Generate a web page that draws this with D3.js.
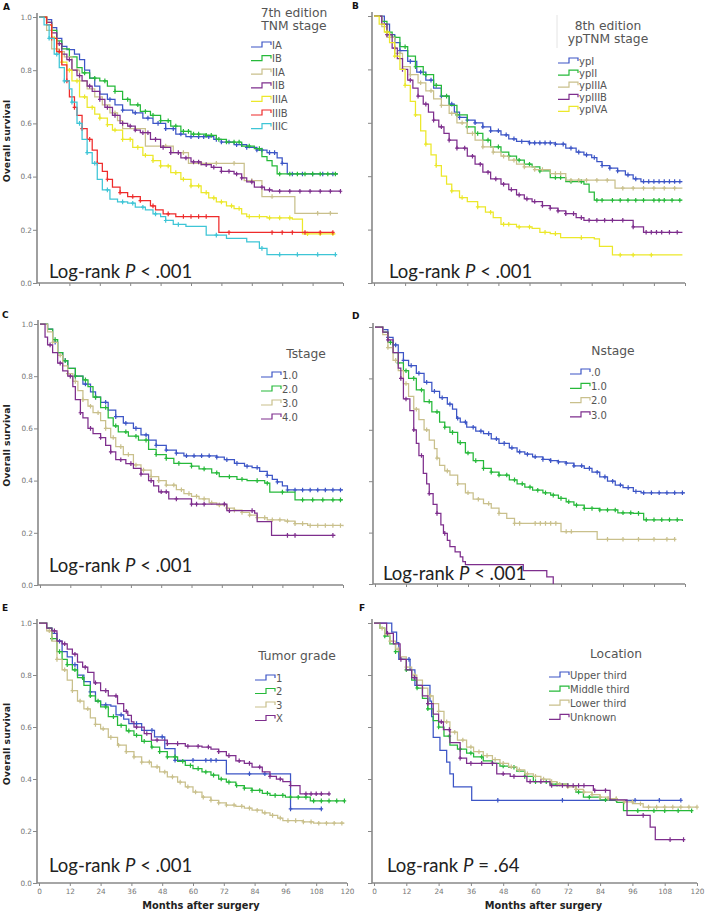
<!DOCTYPE html>
<html><head><meta charset="utf-8">
<script src="https://cdn.jsdelivr.net/npm/d3@7"></script>
<style>body{margin:0;background:#fff}svg{display:block}</style>
</head><body>
<svg id="c" width="709" height="914"></svg>
<script>
// ---------- tick values ----------
const monthTicks = [0,12,24,36,48,60,72,84,96,108,120];
const survTicks = [0,0.2,0.4,0.6,0.8,1.0];

// ---------- Panel A: 7th edition TNM stage ----------
const aIA = [[0,1],[3,0.99],[5,0.96],[7,0.92],[9,0.89],[11,0.877],[14,0.86],[16,0.84],[18,0.80],[20,0.77],[22,0.74],[24,0.71],[27,0.69],[30,0.67],[33,0.65],[37,0.64],[41,0.62],[45,0.60],[50,0.58],[54,0.56],[58,0.55],[69,0.54],[72,0.53],[77,0.52],[82,0.51],[86,0.50],[90,0.49],[94,0.47],[96,0.45],[98,0.41],[118,0.41]];
const aIB = [[0,1],[3,0.98],[5,0.95],[7,0.91],[9,0.88],[12,0.85],[15,0.81],[17,0.79],[20,0.77],[24,0.76],[27,0.74],[30,0.72],[33,0.69],[36,0.67],[40,0.645],[44,0.63],[48,0.61],[52,0.59],[56,0.57],[60,0.56],[66,0.555],[70,0.54],[74,0.53],[80,0.515],[85,0.505],[88,0.475],[90,0.46],[92,0.44],[94,0.41],[118,0.41]];
const aIIA = [[0,1],[3,0.95],[5,0.88],[8,0.87],[10,0.85],[13,0.80],[16,0.76],[19,0.73],[22,0.70],[25,0.67],[28,0.64],[31,0.61],[33,0.58],[42,0.515],[53,0.49],[59,0.45],[81,0.385],[88,0.325],[101,0.262],[118,0.262]];
const aIIB = [[0,1],[3,0.98],[5,0.94],[7,0.90],[9,0.86],[11,0.84],[13,0.80],[15,0.78],[17,0.76],[19,0.74],[21,0.72],[24,0.69],[26,0.66],[29,0.63],[32,0.60],[35,0.59],[38,0.575],[40,0.565],[44,0.54],[48,0.51],[52,0.49],[56,0.47],[60,0.455],[64,0.445],[68,0.435],[72,0.42],[77,0.41],[80,0.395],[82,0.38],[85,0.36],[89,0.35],[92,0.345],[119,0.345]];
const aIIIA = [[0,1],[3,0.97],[5,0.92],[7,0.87],[9,0.83],[11,0.80],[13,0.76],[16,0.70],[19,0.66],[22,0.635],[24,0.62],[27,0.595],[29,0.575],[33,0.54],[37,0.51],[41,0.48],[45,0.46],[48,0.44],[52,0.415],[56,0.39],[60,0.365],[64,0.34],[67,0.32],[70,0.305],[74,0.29],[77,0.28],[80,0.26],[82,0.25],[90,0.245],[100,0.24],[104,0.185],[117,0.185]];
const aIIIB = [[0,1],[3,0.97],[5,0.92],[7,0.87],[9,0.82],[11,0.76],[12,0.70],[14,0.66],[15,0.63],[17,0.58],[19,0.54],[21,0.50],[23,0.45],[25,0.42],[27,0.39],[29,0.36],[32,0.34],[35,0.325],[40,0.31],[44,0.29],[46,0.275],[49,0.26],[54,0.25],[71,0.19],[116,0.19]];
const aIIIC = [[0,1],[2,0.97],[4,0.92],[6,0.86],[8,0.81],[10,0.76],[12,0.73],[13,0.68],[15,0.60],[17,0.54],[19,0.49],[21,0.45],[23,0.39],[25,0.35],[28,0.315],[31,0.305],[35,0.30],[38,0.285],[42,0.275],[45,0.26],[48,0.25],[50,0.235],[53,0.22],[58,0.213],[66,0.18],[74,0.168],[82,0.155],[87,0.13],[90,0.107],[117,0.107]];
const aIAc = [28,33,38,43,47,50,53,56,60,63,65,67,70,72,75,78,80,82,86,88,91,93,96,100,104,108,112,116];
const aIBc = [18,22,26,30,35,39,42,45,48,51,54,57,59,61,63,66,68,71,74,77,79,83,87,95,99,102,105,108,111,114,117];
const aIIAc = [8,15,30,38,50,57,64,70,77,84,92,110,115];
const aIIBc = [8,12,16,20,24,27,30,33,36,38,41,43,46,49,52,55,58,61,63,66,69,72,75,78,80,84,88,91,95,99,103,107,111,115,119];
const aIIIAc = [6,9,12,15,18,21,24,27,30,33,36,39,42,45,48,51,54,57,60,63,66,69,72,76,79,83,87,91,95,99,106,111,116];
const aIIIBc = [5,8,11,14,17,20,23,27,32,37,40,45,51,57,60,63,66,75,92,96,100,105,111,116];
const aIIICc = [4,7,10,13,16,19,22,27,33,37,41,46,50,55,70,88,95,102,110,117];

// ---------- Panel B: 8th edition ypTNM stage ----------
const bI = [[0,1],[4,0.97],[6,0.93],[8,0.90],[10,0.87],[13,0.83],[16.5,0.79],[20,0.76],[23,0.73],[26,0.70],[29,0.67],[31,0.64],[33,0.62],[36,0.61],[39,0.60],[42,0.585],[45,0.57],[49,0.555],[52,0.54],[55,0.53],[60,0.525],[70,0.52],[74,0.505],[78,0.49],[81,0.48],[84,0.47],[86,0.455],[88,0.44],[91,0.43],[94,0.42],[97,0.405],[100,0.39],[103,0.38],[119,0.38]];
const bII = [[0,1],[3,0.98],[5,0.94],[7,0.92],[10,0.885],[13,0.85],[16,0.81],[19,0.78],[23,0.74],[26,0.70],[29,0.665],[32,0.63],[36,0.585],[39,0.56],[42,0.535],[45,0.51],[49,0.49],[52,0.475],[55,0.46],[58,0.445],[61,0.435],[64,0.42],[68,0.395],[74,0.38],[81,0.37],[83,0.34],[85,0.31],[119,0.31]];
const bIIIA = [[0,1],[3,0.96],[5,0.92],[8,0.86],[11,0.81],[14,0.78],[17,0.75],[20,0.72],[23,0.69],[26,0.665],[29,0.635],[32,0.60],[36,0.56],[39,0.535],[42,0.51],[46,0.49],[49,0.475],[52,0.46],[55,0.445],[58,0.435],[62,0.425],[68,0.41],[74,0.385],[93,0.355],[119,0.355]];
const bIIIB = [[0,1],[3,0.97],[5,0.93],[7,0.88],[9,0.84],[11,0.80],[13,0.76],[15,0.73],[17,0.70],[19,0.67],[21,0.64],[23,0.61],[25,0.585],[27,0.56],[29,0.535],[32,0.505],[36,0.475],[39,0.445],[42,0.415],[45,0.39],[49,0.37],[52,0.35],[55,0.33],[58,0.315],[61,0.305],[65,0.29],[68,0.28],[71,0.27],[74,0.26],[78,0.245],[81,0.235],[94,0.235],[100,0.21],[104,0.19],[119,0.19]];
const bIVA = [[0,1],[2,0.97],[4,0.94],[6,0.90],[8,0.85],[10,0.80],[12,0.74],[14,0.68],[16,0.63],[18,0.57],[20,0.52],[22,0.48],[24,0.44],[26,0.40],[28,0.37],[30,0.345],[33,0.32],[36,0.305],[40,0.285],[43,0.265],[46,0.245],[49,0.22],[55,0.21],[61,0.205],[64,0.19],[68,0.185],[72,0.17],[85,0.165],[87,0.137],[92,0.105],[119,0.105]];
const bIc = [6,10,14,18,22,26,30,33,36,39,42,45,48,51,54,57,60,62,64,66,68,70,73,76,79,82,85,88,91,94,98,101,104,106,108,110,112,114,116,118];
const bIIc = [5,8,12,16,20,24,28,32,36,40,44,48,52,56,60,64,70,72,76,80,86,88,92,95,98,101,104,108,110,112,115,118];
const bIIIAc = [6,10,14,18,22,26,30,34,38,42,46,50,54,58,62,65,70,72,76,79,82,86,90,96,100,104,108,112,116];
const bIIIBc = [5,8,11,14,17,20,23,26,29,32,35,38,41,44,47,50,53,56,59,62,65,68,71,74,77,80,83,86,89,92,96,100,105,107,109,111,114,117];
const bIVAc = [5,8,12,16,20,24,30,34,40,45,50,52,56,60,66,70,80,95,100,107];

// ---------- Panel C: T stage ----------
const cT1 = [[0,1],[3,0.98],[5,0.93],[7,0.89],[9,0.86],[11,0.83],[14,0.80],[17,0.77],[20,0.74],[22,0.72],[24,0.70],[27,0.67],[30,0.645],[33,0.62],[37,0.60],[40,0.575],[43,0.555],[46,0.535],[50,0.517],[54,0.505],[57,0.495],[70,0.49],[73,0.48],[77,0.466],[81,0.455],[84,0.45],[87,0.435],[90,0.42],[92,0.405],[94,0.395],[96,0.38],[98,0.364],[120,0.364]];
const cT2 = [[0,1],[3,0.98],[5,0.94],[7,0.89],[9,0.86],[11,0.83],[14,0.80],[17,0.786],[19,0.76],[21,0.72],[24,0.68],[27,0.64],[29,0.61],[31,0.587],[35,0.57],[39,0.555],[43,0.52],[46,0.50],[50,0.485],[53,0.466],[60,0.455],[63,0.445],[68,0.43],[71,0.415],[78,0.405],[82,0.40],[89,0.39],[91,0.356],[101,0.326],[120,0.326]];
const cT3 = [[0,1],[3,0.97],[5,0.93],[7,0.88],[9,0.84],[11,0.81],[13,0.78],[15,0.745],[17,0.71],[19,0.685],[21,0.66],[24,0.63],[26,0.60],[28,0.565],[30,0.53],[33,0.50],[37,0.46],[40,0.44],[44,0.415],[47,0.40],[50,0.383],[54,0.365],[57,0.35],[60,0.34],[63,0.33],[67,0.315],[70,0.307],[74,0.295],[77,0.287],[80,0.278],[83,0.268],[86,0.258],[90,0.25],[97,0.245],[101,0.235],[106,0.228],[120,0.225]];
const cT4 = [[0,1],[2,0.95],[3,0.92],[5,0.89],[7,0.85],[9,0.82],[11,0.80],[13,0.76],[14,0.71],[16,0.66],[17,0.64],[19,0.60],[21,0.58],[24,0.565],[26,0.535],[28,0.51],[30,0.48],[34,0.465],[37,0.447],[40,0.425],[43,0.40],[45,0.38],[47,0.357],[51,0.33],[60,0.31],[74,0.285],[85,0.275],[86,0.243],[91.7,0.19],[117,0.19]];
const cT1c = [6,10,14,18,22,26,30,34,38,42,46,50,54,58,61,64,67,70,74,78,82,86,90,94,98,101,104,107,110,113,116,119];
const cT2c = [6,10,14,18,22,26,30,34,38,42,46,50,55,60,65,70,75,80,86,90,96,104,108,112,116,119];
const cT3c = [5,8,11,14,17,20,23,26,29,32,35,38,41,44,47,50,53,56,59,62,65,68,71,74,77,80,83,86,89,92,95,98,101,104,107,110,113,116,119];
const cT4c = [4,8,12,16,20,24,28,32,36,40,44,48,50,54,60,62,65,73,75,84,98,101,116];

// ---------- Panel D: N stage ----------
const dN0 = [[0,1],[3,0.99],[5,0.96],[7,0.93],[9,0.90],[11,0.87],[13,0.85],[16,0.82],[19,0.785],[22,0.75],[25,0.725],[28,0.70],[30,0.68],[31.6,0.645],[33,0.63],[35.5,0.61],[39,0.595],[42,0.585],[45,0.565],[48,0.547],[52,0.53],[55,0.514],[58,0.505],[61,0.495],[65,0.485],[68,0.48],[71,0.475],[74,0.47],[77,0.46],[81,0.45],[84,0.435],[87,0.417],[90,0.40],[93,0.385],[96,0.375],[100,0.36],[103,0.355],[120,0.355]];
const dN1 = [[0,1],[3,0.98],[5,0.94],[7,0.90],[9,0.86],[11,0.83],[13,0.80],[16,0.755],[19,0.71],[22,0.67],[25,0.63],[27,0.61],[29,0.59],[32,0.55],[35,0.51],[38,0.48],[42,0.45],[45,0.435],[48,0.424],[52,0.405],[55,0.39],[58,0.377],[61,0.365],[65,0.355],[68,0.346],[71,0.333],[74,0.32],[77,0.307],[81,0.294],[87,0.288],[94,0.277],[100,0.275],[104,0.25],[119,0.245]];
const dN2 = [[0,1],[3,0.97],[5,0.92],[7,0.87],[9,0.83],[11,0.78],[13,0.73],[15,0.68],[17,0.64],[19,0.60],[21,0.56],[23,0.527],[24,0.49],[25,0.462],[27,0.44],[29,0.424],[32,0.39],[35,0.355],[38,0.33],[42,0.313],[45,0.295],[48,0.275],[51,0.255],[54,0.236],[72,0.204],[86,0.174],[116,0.174]];
const dN3 = [[0,1],[3,0.98],[5,0.95],[7,0.90],[9,0.84],[10,0.80],[11,0.72],[13.5,0.675],[15,0.60],[16,0.547],[17,0.50],[18.7,0.43],[20,0.39],[21,0.352],[22.5,0.31],[24,0.275],[25.5,0.23],[26.5,0.197],[28,0.17],[29,0.145],[31,0.125],[33,0.106],[34,0.087],[35,0.075],[57.4,0.052],[66.5,0.028],[69,0]];
const dN0c = [5,8,11,14,17,20,23,26,29,32,35,38,41,44,47,50,53,56,59,62,65,68,71,74,77,80,83,86,89,92,95,98,101,104,107,110,113,116,119];
const dN1c = [6,9,12,15,18,21,24,27,30,33,36,39,42,45,48,51,54,57,60,63,66,69,72,75,78,81,84,87,90,93,96,99,102,105,108,111,114,117];
const dN2c = [5,8,12,16,20,24,28,32,36,40,44,48,54,56,62,64,66,68,70,74,76,90,96,102,108,113,116];
const dN3c = [5,10,12,15,18,21,24,27];

// ---------- Panel E: Tumor grade ----------
const eG1 = [[0,1],[3,0.98],[5,0.96],[7,0.93],[9,0.89],[11,0.87],[13,0.84],[15,0.80],[17.5,0.775],[20,0.735],[22,0.70],[24,0.685],[28,0.68],[30,0.647],[33,0.63],[35,0.613],[40,0.587],[45,0.562],[49,0.517],[53,0.472],[73,0.42],[98,0.285],[110,0.285]];
const eG2 = [[0,1],[3,0.98],[5,0.94],[7,0.89],[9,0.86],[11,0.84],[13,0.82],[15,0.79],[17.5,0.76],[20,0.72],[22,0.70],[24,0.677],[27,0.64],[30.6,0.606],[34,0.585],[37,0.568],[40,0.545],[43.8,0.523],[47,0.505],[50,0.485],[54,0.468],[57,0.452],[60,0.44],[63.5,0.427],[67,0.415],[70,0.40],[73,0.388],[76.7,0.375],[80,0.365],[83,0.356],[87,0.345],[90,0.337],[96,0.33],[103,0.33],[105.7,0.316],[119,0.316]];
const eG3 = [[0,1],[3,0.97],[5,0.93],[7,0.86],[9,0.82],[11,0.78],[13,0.74],[15,0.70],[17.5,0.67],[20,0.635],[22,0.61],[24,0.593],[27,0.56],[30.6,0.53],[34,0.505],[37,0.485],[40,0.465],[43.8,0.447],[47,0.427],[50,0.408],[54,0.388],[57,0.37],[60,0.35],[63.5,0.33],[67,0.318],[70,0.308],[73,0.30],[76.7,0.295],[80,0.288],[83,0.28],[87,0.27],[90,0.26],[93,0.25],[95,0.24],[103,0.235],[107,0.23],[119,0.23]];
const eGX = [[0,1],[3,0.98],[5,0.97],[7,0.93],[9,0.92],[11,0.90],[13,0.88],[15,0.85],[17,0.83],[19,0.81],[21.4,0.77],[24,0.74],[27,0.72],[30.6,0.69],[33,0.66],[34.6,0.645],[36,0.62],[37,0.60],[41,0.575],[43.8,0.55],[50,0.536],[57,0.526],[63.5,0.523],[67,0.515],[70,0.505],[73,0.49],[76.7,0.47],[80,0.46],[83,0.446],[87,0.427],[90,0.41],[92.5,0.40],[95,0.39],[98,0.375],[101.7,0.343],[113,0.343]];
const eG1c = [8,14,20,26,32,38,44,48,53,60,65,67,69,82,88,98,110];
const eG2c = [5,8,11,14,17,20,23,26,29,32,35,38,41,44,47,50,53,56,59,62,65,68,71,74,77,80,83,86,89,92,95,98,101,104,107,110,113,116,119];
const eG3c = [4,7,10,13,16,19,22,25,28,31,34,37,40,43,46,49,52,55,58,61,64,67,70,73,76,79,82,85,88,91,94,97,100,103,106,109,112,115,118];
const eGXc = [6,10,14,18,22,26,30,34,38,42,46,50,54,58,62,66,70,74,78,82,86,90,94,98,104,106,108,110,113];

// ---------- Panel F: Location ----------
const fUp = [[0,1],[6.6,0.965],[8.4,0.925],[9.2,0.86],[13.4,0.82],[15.2,0.76],[20.8,0.70],[21.4,0.64],[22,0.56],[24.5,0.51],[27,0.465],[28.2,0.42],[29.5,0.37],[36.3,0.318],[114,0.318]];
const fMid = [[0,1],[2.2,0.98],[4,0.95],[5.9,0.92],[8,0.89],[9.7,0.86],[12,0.82],[14,0.78],[15.9,0.75],[18,0.71],[20,0.67],[22,0.625],[24,0.60],[26,0.565],[28.2,0.53],[31,0.515],[34.4,0.50],[37,0.485],[40.6,0.47],[44,0.46],[46.8,0.45],[50,0.445],[53,0.43],[56,0.41],[59.2,0.39],[65.4,0.38],[71.6,0.375],[75,0.35],[77.8,0.33],[84,0.32],[90.2,0.31],[92.7,0.278],[118,0.278]];
const fLow = [[0,1],[2.2,0.98],[4,0.955],[5.9,0.93],[8,0.90],[9.7,0.87],[12,0.83],[14,0.80],[15.9,0.78],[18,0.75],[20,0.72],[22,0.69],[24,0.66],[26,0.62],[28.2,0.58],[31,0.55],[34.4,0.523],[37,0.505],[40.6,0.49],[44,0.475],[46.8,0.46],[50,0.447],[53,0.435],[56,0.42],[59.2,0.41],[62,0.40],[65.4,0.39],[68,0.38],[71.6,0.37],[75,0.36],[77.8,0.35],[81,0.34],[84,0.33],[87,0.325],[90.2,0.318],[93,0.312],[96.4,0.305],[100,0.292],[120,0.292]];
const fUnk = [[0,1],[4.7,0.96],[7.2,0.92],[9.7,0.86],[12,0.82],[14,0.79],[15.9,0.76],[18,0.72],[20,0.69],[22,0.65],[24,0.62],[25.8,0.59],[28.2,0.54],[32,0.48],[34.4,0.46],[40.6,0.46],[45.6,0.42],[50.6,0.41],[56.8,0.39],[65.4,0.375],[81.5,0.356],[87.7,0.32],[94,0.26],[102.6,0.215],[104.5,0.167],[115,0.167]];
const fUpc = [13,46,70,97,106,114];
const fMidc = [4,8,12,16,20,24,28,32,36,40,44,48,52,56,60,64,68,72,76,80,86,90,98,104,108,113,118];
const fLowc = [3,6,9,12,15,18,21,24,27,30,33,36,39,42,45,48,51,54,57,60,63,66,69,72,75,78,81,84,87,90,93,96,99,102,105,108,111,114,117,120];
const fUnkc = [5,10,15,20,25,28,32,36,40,44,48,52,58,62,66,70,72,74,76,78,82,86,100,110,115];

// ---------- labels ----------
const aLabels = ["IA","IB","IIA","IIB","IIIA","IIIB","IIIC"];
const bLabels = ["ypI","ypII","ypIIIA","ypIIIB","ypIVA"];
const cLabels = ["1.0","2.0","3.0","4.0"];
const dLabels = [".0","1.0","2.0","3.0"];
const eLabels = ["1","2","3","X"];
const fLabels = ["Upper third","Middle third","Lower third","Unknown"];

// ---------- styling ----------
const C = {blue:"#3c55c6", green:"#26b93a", khaki:"#c9c08c", purple:"#7e2e8d", yellow:"#ece82a", red:"#ee2b2b", cyan:"#3ec5d6"};
const AX = "#888";

const panels = [
 {letter:"A", lx:3, ly:10, x0:39, x1:343, yTop:17, yBot:283, yLab:true, xLab:false,
  series:[[aIA,aIAc,C.blue],[aIB,aIBc,C.green],[aIIA,aIIAc,C.khaki],[aIIB,aIIBc,C.purple],[aIIIA,aIIIAc,C.yellow],[aIIIB,aIIIBc,C.red],[aIIIC,aIIICc,C.cyan]],
  labels:aLabels, title:["7th edition","TNM stage"], tx:294, ty:[17,29.5], ix:251, iy:45, idy:13.6,
  lr:[49,278,"<",".001"]},
 {letter:"B", lx:352, ly:9, x0:374, x1:685, yTop:16, yBot:283, yLab:false, xLab:false,
  series:[[bI,bIc,C.blue],[bII,bIIc,C.green],[bIIIA,bIIIAc,C.khaki],[bIIIB,bIIIBc,C.purple],[bIVA,bIVAc,C.yellow]],
  labels:bLabels, title:["8th edition","ypTNM stage"], tx:608, ty:[30,43], ix:558, iy:61, idy:12.1,
  lr:[389,278,"<",".001"], vline:true},
 {letter:"C", lx:2, ly:318, x0:40, x1:343, yTop:324, yBot:585, yLab:true, xLab:false,
  series:[[cT1,cT1c,C.blue],[cT2,cT2c,C.green],[cT3,cT3c,C.khaki],[cT4,cT4c,C.purple]],
  labels:cLabels, title:["Tstage"], tx:306, ty:[358], ix:261, iy:375, idy:14,
  lr:[49,572,"<",".001"]},
 {letter:"D", lx:352, ly:319, x0:375, x1:685, yTop:327, yBot:584, yLab:false, xLab:false,
  series:[[dN0,dN0c,C.blue],[dN1,dN1c,C.green],[dN2,dN2c,C.khaki],[dN3,dN3c,C.purple]],
  labels:dLabels, title:["Nstage"], tx:613, ty:[355], ix:570, iy:372, idy:14.3,
  lr:[383,580,"<",".001"]},
 {letter:"E", lx:2, ly:611, x0:39, x1:347, yTop:623, yBot:883, yLab:true, xLab:true,
  series:[[eG1,eG1c,C.blue],[eG2,eG2c,C.green],[eG3,eG3c,C.khaki],[eGX,eGXc,C.purple]],
  labels:eLabels, title:["Tumor grade"], tx:297, ty:[660], ix:255, iy:678, idy:13.5,
  lr:[49,872,"<",".001"]},
 {letter:"F", lx:359, ly:611, x0:374, x1:697, yTop:623, yBot:883, yLab:false, xLab:true,
  series:[[fUp,fUpc,C.blue],[fMid,fMidc,C.green],[fLow,fLowc,C.khaki],[fUnk,fUnkc,C.purple]],
  labels:fLabels, title:["Location"], tx:616, ty:[658], ix:549, iy:675, idy:14.1,
  lr:[387,872,"=",".64"]}
];

const svg = d3.select("#c");
const bis = d3.bisector(d => d[0]).right;
function survAt(pts, t){ const i = Math.max(0, bis(pts, t) - 1); return pts[i][1]; }

panels.forEach(p => {
  const x = d3.scaleLinear().domain([0,120]).range([p.x0, p.x1]);
  const y = d3.scaleLinear().domain([0,1]).range([p.yBot, p.yTop]);
  const g = svg.append("g");
  const ax = p.x0 - 2;

  g.append("text").attr("x", p.lx).attr("y", p.ly).text(p.letter)
    .attr("font-family","DejaVu Sans").attr("font-weight","bold").attr("font-size",9).attr("fill","#111");

  const yAxis = d3.axisLeft(y).tickValues(survTicks).tickSize(4).tickSizeOuter(0)
    .tickFormat(p.yLab ? d3.format(".1f") : () => "");
  const ya = g.append("g").attr("transform",`translate(${ax},0)`).call(yAxis);
  ya.select(".domain").remove();
  ya.selectAll("line").attr("stroke",AX);
  ya.selectAll("text").attr("font-family","DejaVu Sans").attr("font-size",7.3).attr("fill","#777").attr("x",-5);
  g.append("line").attr("x1",ax).attr("x2",ax).attr("y1",y(1)-4).attr("y2",p.yBot)
    .attr("stroke",AX).attr("stroke-width",1.6);

  const xAxis = d3.axisBottom(x).tickValues(monthTicks).tickSize(3).tickSizeOuter(0)
    .tickFormat(p.xLab ? d3.format("d") : () => "");
  const xa = g.append("g").attr("transform",`translate(0,${p.yBot})`).call(xAxis);
  xa.select(".domain").remove();
  xa.selectAll("line").attr("stroke",AX);
  xa.selectAll("text").attr("font-family","DejaVu Sans").attr("font-size",7.3).attr("fill","#777");
  g.append("line").attr("x1",ax).attr("x2",p.x1).attr("y1",p.yBot).attr("y2",p.yBot)
    .attr("stroke",AX).attr("stroke-width",1.4);

  if (p.yLab) {
    const cy = (p.yTop + p.yBot)/2 - 9;
    g.append("text").attr("transform",`translate(10,${cy}) rotate(-90)`).attr("text-anchor","middle")
      .text("Overall survival").attr("font-family","DejaVu Sans").attr("font-weight","bold")
      .attr("font-size",9.3).attr("fill","#222");
  }
  if (p.xLab) {
    g.append("text").attr("x",(p.x0+p.x1)/2 + 8).attr("y",909).attr("text-anchor","middle")
      .text("Months after surgery").attr("font-family","DejaVu Sans").attr("font-weight","bold")
      .attr("font-size",9.8).attr("fill","#222");
  }

  const line = d3.line().x(d => x(d[0])).y(d => y(d[1])).curve(d3.curveStepAfter);
  p.series.forEach(([pts, cens, col]) => {
    g.append("path").attr("d", line(pts)).attr("fill","none").attr("stroke",col).attr("stroke-width",1.25);
    g.append("g").selectAll("path").data(cens).join("path")
      .attr("d", t => { const cx = x(t), cy = y(survAt(pts,t));
        return `M${cx-1.8},${cy}H${cx+1.8}M${cx},${cy-2.3}V${cy+2.3}`; })
      .attr("stroke",col).attr("stroke-width",1.2).attr("fill","none");
  });

  if (p.vline) g.append("line").attr("x1",557).attr("x2",557).attr("y1",15).attr("y2",48).attr("stroke","#e4e4e4");
  p.title.forEach((t,i) => g.append("text").attr("x",p.tx).attr("y",p.ty[i]).attr("text-anchor","middle")
    .text(t).attr("font-family","DejaVu Sans").attr("font-size",12.3).attr("fill","#555"));
  p.labels.forEach((lab,i) => {
    const yy = p.iy + i*p.idy, col = p.series[i][2], ix = p.ix;
    g.append("path").attr("d",`M${ix},${yy+2}H${ix+11}V${yy-3}H${ix+20}V${yy}`)
      .attr("fill","none").attr("stroke",col).attr("stroke-width",1.2);
    g.append("text").attr("x",ix+21).attr("y",yy).attr("dy","0.36em").text(lab)
      .attr("font-family","DejaVu Sans").attr("font-size",10).attr("fill","#555");
  });

  const lt = g.append("text").attr("x",p.lr[0]).attr("y",p.lr[1])
    .attr("font-family","Lato").attr("font-size",18.5).attr("fill","#222");
  lt.append("tspan").text("Log-rank ");
  lt.append("tspan").attr("font-style","italic").text("P");
  lt.append("tspan").text(` ${p.lr[2]} ${p.lr[3]}`);
});
</script>
</body></html>
